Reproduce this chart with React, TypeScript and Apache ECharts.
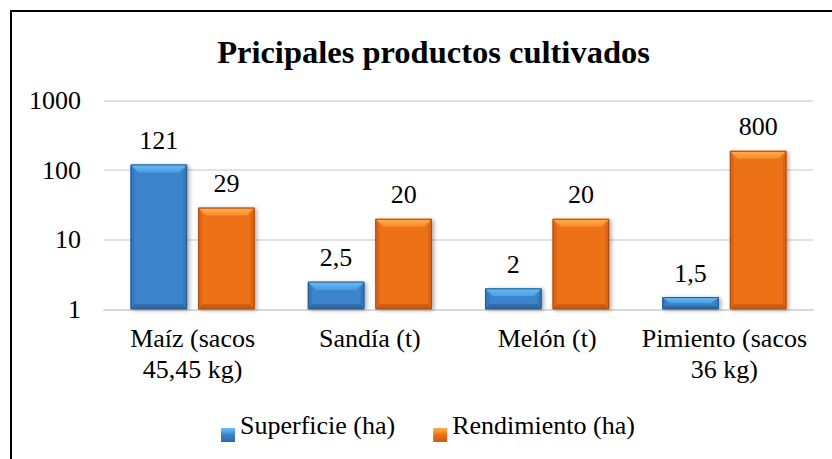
import React, { useEffect, useRef } from "react";
import * as echarts from "echarts";

const titleText = "Pricipales productos cultivados";
const categories = ["Maíz (sacos\n45,45 kg)", "Sandía (t)", "Melón (t)", "Pimiento (sacos\n36 kg)"];
const seriesNames = ["Superficie (ha)", "Rendimiento (ha)"];
const superficieValues = [121, 2.5, 2, 1.5];
const superficieLabels = ["121", "2,5", "2", "1,5"];
// bar heights as drawn in the picture; the label of the last one reads 800
const rendimientoValues = [29, 20, 20, 190];
const rendimientoLabels = ["29", "20", "20", "800"];

const FONT = "Liberation Serif";

const palettes = [
  { main: "#3b84cc", top: "#6cbcf6", topEnd: "#4a9fe3", side: "#3479bd", bottom: "#2f69a6", edge: "#285a8a" },
  { main: "#ed7119", top: "#ffae55", topEnd: "#f98c2c", side: "#dd6616", bottom: "#cc5b12", edge: "#a64b0c" },
];

function makeRender(si: number, labels: string[]) {
  return (params: any, api: any) => {
    const idx = api.value(0);
    const val = api.value(1);
    const cs = params.coordSys;
    const band = cs.width / categories.length;
    const w = band * 0.319;
    const gap = band * 0.062;
    const c = api.coord([idx, val]);
    const b = api.coord([idx, 1]);
    const cx = c[0];
    const x = si === 0 ? cx - gap / 2 - w : cx + gap / 2;
    const y = c[1];
    const h = b[1] - c[1];
    const p = palettes[si];
    const tb = Math.min(8, h * 0.5);
    const sb = Math.min(4, h * 0.3);
    const bb = Math.min(5, h * 0.3);
    const ti = Math.min(8, w / 2);
    return {
      type: "group",
      children: [
        {
          type: "rect",
          shape: { x, y, width: w, height: h },
          style: { fill: p.main, shadowBlur: 4, shadowColor: "rgba(0,0,0,0.35)", shadowOffsetX: 2, shadowOffsetY: 1 },
        },
        {
          type: "polygon",
          shape: { points: [[x, y], [x + sb, y + tb], [x + sb, y + h - bb], [x, y + h]] },
          style: { fill: p.side },
        },
        {
          type: "polygon",
          shape: { points: [[x + w, y], [x + w - sb, y + tb], [x + w - sb, y + h - bb], [x + w, y + h]] },
          style: { fill: p.side },
        },
        {
          type: "polygon",
          shape: { points: [[x, y + h], [x + sb, y + h - bb], [x + w - sb, y + h - bb], [x + w, y + h]] },
          style: { fill: p.bottom },
        },
        {
          type: "polygon",
          shape: { points: [[x, y], [x + w, y], [x + w - ti, y + tb], [x + ti, y + tb]] },
          style: {
            fill: new echarts.graphic.LinearGradient(0, 0, 0, 1, [
              { offset: 0, color: p.top },
              { offset: 1, color: p.topEnd },
            ]),
          },
        },
        {
          type: "rect",
          shape: { x: x + 0.5, y: y + 0.5, width: w - 1, height: h - 1 },
          style: { fill: "none", stroke: p.edge, lineWidth: 1 },
        },
        {
          type: "text",
          style: {
            text: labels[idx],
            x: x + w / 2,
            y: y - 11,
            align: "center",
            verticalAlign: "bottom",
            fontSize: 26,
            fontFamily: FONT,
            fill: "#000",
          },
        },
      ],
    };
  };
}

export default function App() {
  const ref = useRef<HTMLDivElement>(null);
  useEffect(() => {
    if (!ref.current) return;
    const chart = echarts.init(ref.current, null, { renderer: "svg" });
    const legendIcon = (p: any) =>
      new echarts.graphic.LinearGradient(0, 0, 0, 1, [
        { offset: 0, color: p.top },
        { offset: 0.3, color: p.topEnd },
        { offset: 0.45, color: p.main },
        { offset: 1, color: p.bottom },
      ]);
    chart.setOption({
      animation: false,
      backgroundColor: "#fff",
      textStyle: { fontFamily: FONT },
      title: {
        text: titleText,
        left: 428.5,
        top: 31,
        textAlign: "center",
        textStyle: { fontFamily: FONT, fontSize: 32.5, fontWeight: "bold", color: "#000", lineHeight: 32 },
      },
      graphic: [
        {
          type: "rect",
          shape: { x: 11, y: 11, width: 900, height: 600 },
          style: { fill: "none", stroke: "#000", lineWidth: 2 },
          silent: true,
        },
      ],
      legend: {
        left: 221,
        top: 408,
        padding: 0,
        itemGap: 38,
        itemWidth: 14,
        itemHeight: 34,
        icon: "path://M0,0 M0,20 L14,20 L14,34 L0,34 Z",
        data: seriesNames.map((n, i) => ({ name: n, itemStyle: { color: legendIcon(palettes[i]) } })),
        textStyle: { fontFamily: FONT, fontSize: 26, color: "#000", lineHeight: 26 },
      },
      grid: { left: 104, right: 19, top: 100.7, bottom: 149.7 },
      xAxis: {
        type: "category",
        data: categories,
        axisTick: { show: false },
        axisLine: { lineStyle: { color: "#d9d9d9", width: 2 } },
        axisLabel: { fontFamily: FONT, fontSize: 26, color: "#000", margin: 14, lineHeight: 31, interval: 0 },
      },
      yAxis: {
        type: "log",
        logBase: 10,
        min: 1,
        max: 1000,
        axisLine: { show: false },
        axisTick: { show: false },
        splitLine: { lineStyle: { color: "#d9d9d9", width: 1.5 } },
        axisLabel: {
          fontFamily: FONT,
          fontSize: 26,
          color: "#000",
          margin: 23,
          formatter: (v: number) => String(Math.round(v)),
        },
      },
      series: [
        {
          name: seriesNames[0],
          type: "custom",
          itemStyle: { color: palettes[0].main },
          encode: { x: 0, y: 1 },
          data: superficieValues.map((v, i) => [i, v]),
          renderItem: makeRender(0, superficieLabels),
          clip: false,
        },
        {
          name: seriesNames[1],
          type: "custom",
          itemStyle: { color: palettes[1].main },
          encode: { x: 0, y: 1 },
          data: rendimientoValues.map((v, i) => [i, v]),
          renderItem: makeRender(1, rendimientoLabels),
          clip: false,
        },
      ],
    });
    return () => chart.dispose();
  }, []);
  return (
    <div
      ref={ref}
      style={{ position: "absolute", left: 0, top: 0, width: 832, height: 459, overflow: "hidden" }}
    />
  );
}
